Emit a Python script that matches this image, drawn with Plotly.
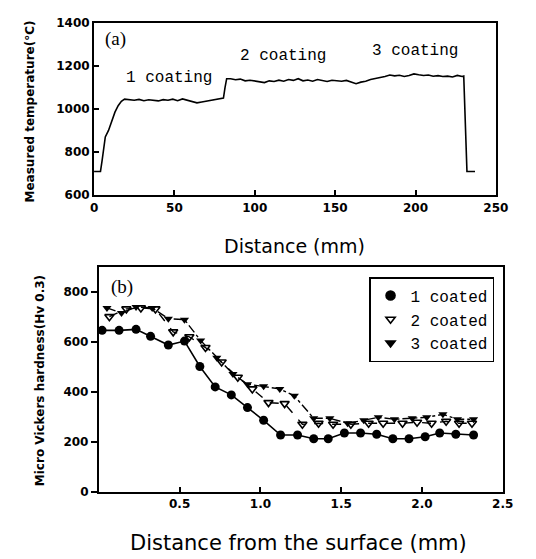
import plotly.graph_objects as go

# ---- Panel (a): measured temperature vs distance ----
dist_mm = [0, 4, 5, 7, 9, 11, 13, 15, 17, 19, 22, 25, 28, 31, 34, 37, 40, 43, 46, 49,
           52, 55, 58, 61, 64, 67, 70, 73, 76, 79, 80.5, 81.5, 82.5, 85, 88, 91, 94, 97,
           100, 103, 106, 109, 112, 115, 118, 121, 124, 127, 130, 133, 136, 139, 142,
           145, 148, 151, 154, 157, 160, 163, 166, 169, 172, 175, 178, 181, 184, 187,
           190, 193, 196, 199, 202, 205, 208, 211, 214, 217, 220, 223, 226, 229, 230,
           232, 237]
temp_c = [710, 710, 760, 870, 900, 940, 985, 1015, 1035, 1045, 1043, 1040, 1044, 1038,
          1042, 1040, 1037, 1043, 1040, 1045, 1038, 1046, 1040, 1035, 1028, 1032, 1036,
          1042, 1046, 1048, 1050, 1100, 1140, 1140, 1135, 1138, 1130, 1133, 1130, 1125,
          1122, 1130, 1127, 1133, 1128, 1136, 1132, 1140, 1130, 1134, 1128, 1136, 1131,
          1127, 1133, 1130, 1128, 1132, 1124, 1117, 1124, 1128, 1136, 1140, 1144, 1150,
          1157, 1153, 1156, 1150, 1155, 1162, 1158, 1155, 1157, 1151, 1154, 1150, 1152,
          1148, 1155, 1150, 1152, 710, 710]

# ---- Panel (b): micro Vickers hardness vs depth ----
depth_1 = [0.02, 0.125, 0.23, 0.32, 0.43, 0.53, 0.625, 0.72, 0.82, 0.92, 1.02, 1.125,
           1.23, 1.33, 1.42, 1.52, 1.62, 1.72, 1.82, 1.92, 2.02, 2.11, 2.21, 2.32]
hv_1 = [647, 647, 651, 623, 588, 604, 502, 420, 388, 337, 286, 227,
        227, 212, 212, 235, 235, 230, 212, 212, 220, 235, 230, 227]

depth_2 = [0.065, 0.17, 0.26, 0.35, 0.46, 0.56, 0.66, 0.76, 0.86, 0.95, 1.05, 1.15,
           1.26, 1.36, 1.45, 1.56, 1.67, 1.76, 1.88, 1.97, 2.06, 2.15, 2.23, 2.31]
hv_2 = [702, 733, 737, 733, 641, 621, 578, 520, 459, 412, 357, 353,
        270, 274, 270, 270, 274, 274, 274, 278, 274, 282, 274, 274]

depth_3 = [0.05, 0.14, 0.23, 0.33, 0.43, 0.53, 0.63, 0.73, 0.83, 0.92, 1.02, 1.12,
           1.21, 1.33, 1.43, 1.54, 1.64, 1.73, 1.83, 1.94, 2.03, 2.13, 2.22, 2.32]
hv_3 = [737, 717, 741, 737, 694, 690, 606, 537, 472, 431, 423, 412,
        384, 294, 294, 274, 286, 298, 290, 294, 298, 310, 290, 290]

series_names = ["1 coated", "2 coated", "3 coated"]

W, H = 536, 559
def px(x): return x / W
def py(y): return 1 - y / H

fig = go.Figure()

fig.add_trace(go.Scatter(x=dist_mm, y=temp_c, mode="lines",
                         line=dict(color="black", width=1.6),
                         xaxis="x", yaxis="y", showlegend=False))

fig.add_trace(go.Scatter(x=depth_1, y=hv_1, mode="lines+markers",
                         line=dict(color="black", width=1.6),
                         marker=dict(symbol="circle", size=9, color="black"),
                         xaxis="x2", yaxis="y2", showlegend=False))
fig.add_trace(go.Scatter(x=depth_2, y=hv_2, mode="lines+markers",
                         line=dict(color="black", width=1.4, dash="dash"),
                         marker=dict(symbol="triangle-down-open", size=8, color="black",
                                     line=dict(width=1.6)),
                         xaxis="x2", yaxis="y2", showlegend=False))
fig.add_trace(go.Scatter(x=depth_3, y=hv_3, mode="lines+markers",
                         line=dict(color="black", width=1.4, dash="dashdot"),
                         marker=dict(symbol="triangle-down", size=8, color="black"),
                         xaxis="x2", yaxis="y2", showlegend=False))

# legend-only entries (marker without line, as in the original)
for name, sym, sz in zip(series_names,
                         ["circle", "triangle-down-open", "triangle-down"],
                         [9, 8, 8]):
    fig.add_trace(go.Scatter(x=[None], y=[None], mode="markers", name=name,
                             marker=dict(symbol=sym, size=sz, color="black",
                                         line=dict(width=1.6, color="black")),
                             xaxis="x2", yaxis="y2", showlegend=True))

tickfont = dict(family="DejaVu Sans", size=12, color="black", weight="bold")
axis_common = dict(showgrid=False, zeroline=False, showline=True, linecolor="black",
                   linewidth=2, mirror=True, tickfont=tickfont, ticks="inside",
                   ticklen=5, tickcolor="black", tickwidth=1.5)

fig.update_layout(
    width=W, height=H,
    margin=dict(l=0, r=0, t=0, b=0),
    paper_bgcolor="white", plot_bgcolor="white",
    xaxis=dict(domain=[px(93), px(508)], range=[0, 250], tickvals=[0, 50, 100, 150, 200, 250],
               anchor="y", **axis_common),
    yaxis=dict(domain=[py(193), py(16)], range=[600, 1400],
               tickvals=[600, 800, 1000, 1200, 1400], anchor="x", **axis_common),
    xaxis2=dict(domain=[px(98), px(515)], range=[0, 2.5], tickvals=[0.5, 1.0, 1.5, 2.0, 2.5],
                ticktext=["0.5", "1.0", "1.5", "2.0", "2.5"], anchor="y2", **axis_common),
    yaxis2=dict(domain=[py(497), py(267)], range=[0, 900],
                tickvals=[0, 200, 400, 600, 800], anchor="x2", **axis_common),
    legend=dict(x=px(377), y=py(277), xanchor="left", yanchor="top",
                bgcolor="white", bordercolor="black", borderwidth=1.5,
                font=dict(family="Liberation Mono", size=16, color="black"),
                itemwidth=30, tracegroupgap=0),
    showlegend=True,
)
fig.update_yaxes(selector=dict(anchor="x2"), ticks="outside", ticklen=6)

mono = dict(family="Liberation Mono", size=16, color="black")
serif = dict(family="Liberation Serif", size=19, color="black")
annots = [
    dict(text="(a)", x=px(115), y=py(33), font=serif),
    dict(text="1 coating", x=px(170), y=py(73), font=mono),
    dict(text="2 coating", x=px(288), y=py(50), font=mono),
    dict(text="3 coating", x=px(424), y=py(45), font=mono),
    dict(text="(b)", x=px(122), y=py(287), font=serif),
    dict(text="Distance (mm)", x=px(300), y=py(245),
         font=dict(family="DejaVu Sans", size=19, color="black")),
    dict(text="Distance from the surface (mm)", x=px(304), y=py(550),
         font=dict(family="DejaVu Sans", size=21, color="black")),
    dict(text="Measured temperature(°C)", x=px(27), y=py(107), textangle=-90,
         font=dict(family="DejaVu Sans", size=12, color="black", weight="bold")),
    dict(text="Micro Vickers hardness(Hv 0.3)", x=px(38), y=py(383), textangle=-90,
         font=dict(family="DejaVu Sans", size=12, color="black", weight="bold")),
]
for a in annots:
    fig.add_annotation(xref="paper", yref="paper", showarrow=False,
                       xanchor="center", yanchor="middle", **a)

fig.write_html("out.html")
